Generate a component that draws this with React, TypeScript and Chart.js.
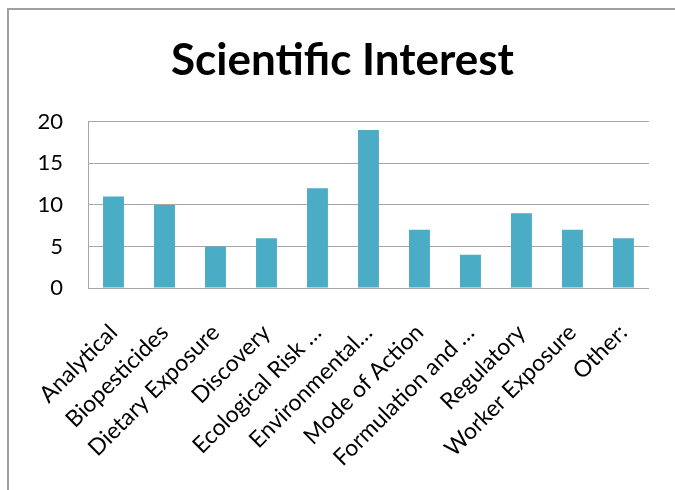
import { useEffect, useRef } from "react";
import { Chart, registerables } from "chart.js";

Chart.register(...registerables);

const categories = [
  "Analytical",
  "Biopesticides",
  "Dietary Exposure",
  "Discovery",
  "Ecological Risk …",
  "Environmental…",
  "Mode of Action",
  "Formulation and …",
  "Regulatory",
  "Worker Exposure",
  "Other:",
];
const values = [11, 10, 5, 6, 12, 19, 7, 4, 9, 7, 6];
const yTicks = [0, 5, 10, 15, 20];

const FONT = "Lato, 'Open Sans', sans-serif";
const GRID = "#a6a6a6";

export default function App() {
  const ref = useRef<HTMLCanvasElement | null>(null);

  useEffect(() => {
    if (!ref.current) return;
    const chart = new Chart(ref.current, {
      type: "bar",
      data: {
        labels: categories,
        datasets: [
          {
            data: values,
            backgroundColor: "#4bacc6",
            barPercentage: 0.41,
            categoryPercentage: 1,
          },
        ],
      },
      options: {
        animation: false,
        responsive: false,
        maintainAspectRatio: false,
        layout: { padding: { left: 33, right: 23, top: 34, bottom: 0 } },
        plugins: {
          legend: { display: false },
          tooltip: { enabled: false },
          title: {
            display: true,
            text: "Scientific Interest",
            color: "#000",
            font: { family: FONT, size: 44, weight: "bold" },
            padding: { top: 0, bottom: 35 },
          },
        },
        scales: {
          x: {
            grid: { display: false, drawTicks: false },
            border: { display: true, color: GRID },
            ticks: {
              autoSkip: false,
              maxRotation: 45,
              minRotation: 45,
              color: "#000",
              padding: 31,
              font: { family: FONT, size: 23 },
            },
            afterFit: (s: any) => {
              s.height = 490 - 288;
            },
          },
          y: {
            min: 0,
            max: 20,
            afterBuildTicks: (s: any) => {
              s.ticks = yTicks.map((v) => ({ value: v }));
            },
            grid: { color: GRID, drawTicks: false },
            border: { display: true, color: GRID },
            ticks: {
              color: "#000",
              padding: 25,
              font: { family: FONT, size: 22 },
            },
            afterFit: (s: any) => {
              s.width = 55;
            },
          },
        },
      },
    });
    return () => chart.destroy();
  }, []);

  return (
    <div style={{ position: "fixed", left: 0, top: 0, width: 675, height: 490, background: "#fff" }}>
      <div
        style={{
          position: "absolute",
          left: 7,
          top: 8,
          right: 0,
          bottom: 0,
          borderLeft: "2px solid #a0a0a0",
          borderTop: "2px solid #a0a0a0",
        }}
      />
      <canvas ref={ref} width={675} height={490} style={{ position: "absolute", left: 0, top: 0 }} />
    </div>
  );
}
